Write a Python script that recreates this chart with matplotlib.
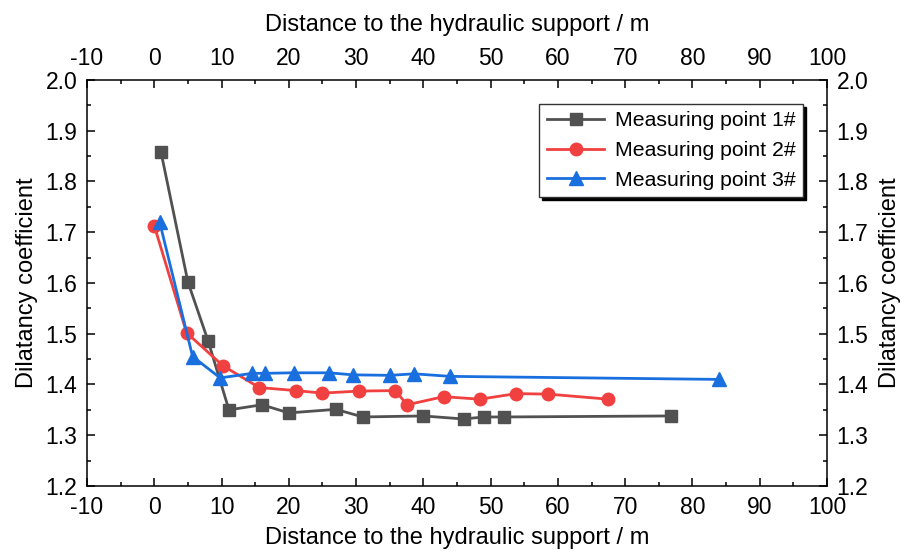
import matplotlib.pyplot as plt
from matplotlib.ticker import MultipleLocator

plt.rcParams['font.family'] = ['Liberation Sans', 'DejaVu Sans']
plt.rcParams['axes.unicode_minus'] = False

# Measuring point 1#
x1 = [1.0, 5.0, 8.0, 11.1, 16.0, 20.0, 27.0, 31.0, 40.0, 46.0, 49.0, 52.0, 76.8]
y1 = [1.858, 1.602, 1.486, 1.350, 1.360, 1.344, 1.351, 1.336, 1.338, 1.332, 1.336, 1.336, 1.338]

# Measuring point 2#
x2 = [0.0, 4.8, 10.2, 15.6, 21.0, 25.0, 30.4, 35.8, 37.6, 43.0, 48.4, 53.8, 58.6, 67.5]
y2 = [1.713, 1.502, 1.437, 1.394, 1.388, 1.383, 1.387, 1.388, 1.360, 1.376, 1.371, 1.382, 1.381, 1.371]

# Measuring point 3#
x3 = [0.8, 5.7, 9.8, 14.6, 16.4, 20.7, 26.0, 29.5, 35.0, 38.6, 44.0, 84.0]
y3 = [1.720, 1.455, 1.413, 1.422, 1.422, 1.423, 1.423, 1.419, 1.418, 1.421, 1.416, 1.410]

labels = ['Measuring point 1#', 'Measuring point 2#', 'Measuring point 3#']
colors = ['#515151', '#F14040', '#1A6FDF']

fig = plt.figure(figsize=(9.09, 5.52), dpi=100)
ax = fig.add_axes([0.0957, 0.1196, 0.8141, 0.7355])

ax.plot(x1, y1, color=colors[0], marker='s', markersize=8.5, linewidth=2, label=labels[0])
ax.plot(x2, y2, color=colors[1], marker='o', markersize=9, linewidth=2, label=labels[1])
ax.plot(x3, y3, color=colors[2], marker='^', markersize=10, linewidth=2, label=labels[2])

ax.set_xlim(-10, 100)
ax.set_ylim(1.2, 2.0)

fs = 16.5
ax.xaxis.set_major_locator(MultipleLocator(10))
ax.xaxis.set_minor_locator(MultipleLocator(5))
ax.yaxis.set_major_locator(MultipleLocator(0.1))
ax.yaxis.set_minor_locator(MultipleLocator(0.05))
ax.yaxis.set_major_formatter(plt.FormatStrFormatter('%.1f'))
ax.tick_params(which='both', direction='in', top=True, right=True,
               labeltop=True, labelright=True, labelsize=fs, width=1.1)
ax.tick_params(which='major', length=6)
ax.tick_params(which='minor', length=3)
ax.tick_params(axis='x', which='major', pad=7)
ax.tick_params(axis='y', which='major', pad=7)
for s in ax.spines.values():
    s.set_linewidth(1.1)

# axis titles, placed as in the reference
ax.text(0.5, 1.136, 'Distance to the hydraulic support / m', transform=ax.transAxes,
        ha='center', va='center', fontsize=17)
ax.text(0.5, -0.128, 'Distance to the hydraulic support / m', transform=ax.transAxes,
        ha='center', va='center', fontsize=17)
ax.text(-0.081, 0.5, 'Dilatancy coefficient', transform=ax.transAxes,
        ha='center', va='center', rotation=90, fontsize=17)
ax.text(1.085, 0.5, 'Dilatancy coefficient', transform=ax.transAxes,
        ha='center', va='center', rotation=90, fontsize=17)

leg = ax.legend(loc='upper right', bbox_to_anchor=(0.9676, 0.941), borderaxespad=0,
                fontsize=15.3, fancybox=False, framealpha=1, edgecolor='#333333',
                shadow={'color': 'black', 'alpha': 1},
                handlelength=2.7, handletextpad=0.5, borderpad=0.35, labelspacing=0.5)
leg.get_frame().set_linewidth(1.0)

fig.savefig('out.png', dpi=100)
